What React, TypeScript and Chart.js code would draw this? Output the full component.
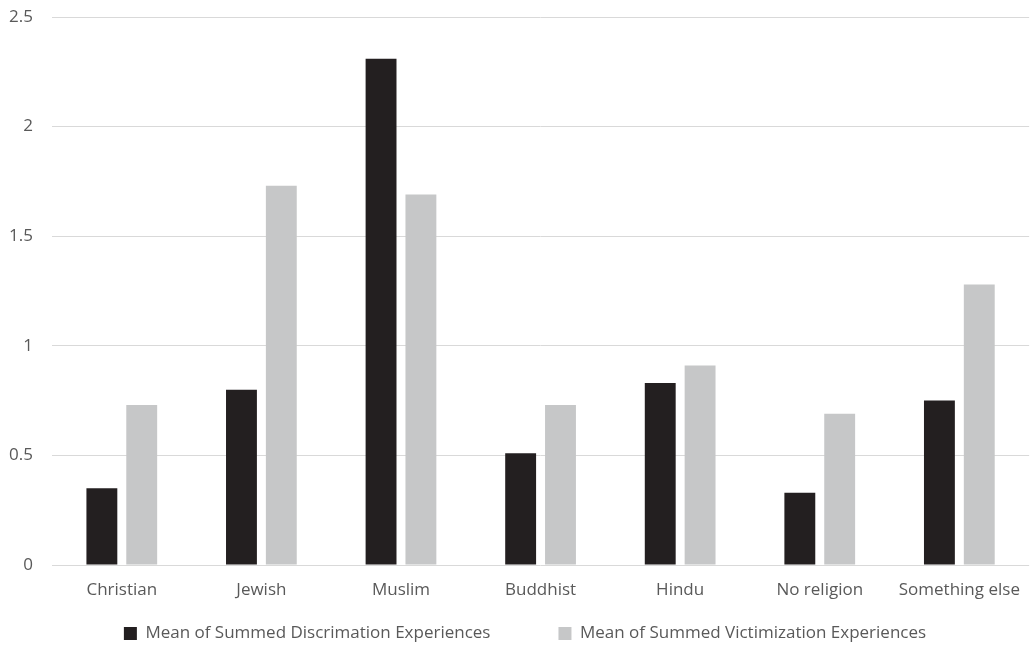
import React, { useEffect, useRef } from "react";
import { Chart, registerables } from "chart.js";

Chart.register(...registerables);

const categories = ["Christian", "Jewish", "Muslim", "Buddhist", "Hindu", "No religion", "Something else"];
const discrimination = [0.35, 0.8, 2.31, 0.51, 0.83, 0.33, 0.75];
const victimization = [0.73, 1.73, 1.69, 0.73, 0.91, 0.69, 1.28];
const seriesLabels = ["Mean of Summed Discrimation Experiences", "Mean of Summed Victimization Experiences"];
const yTicks = [0, 0.5, 1, 1.5, 2, 2.5];

const FONT = "'Open Sans', 'Noto Sans', sans-serif";
const TEXT = "#595959";
const LEGEND_GAP = 68;
const LEGEND_HEIGHT = 28;
const LEGEND_DX = 8;
const LEGEND_TOP_OFFSET = 7;

// Keeps a wide horizontal gap between legend items while keeping the legend band short.
const legendTweak = {
  id: "legendTweak",
  beforeLayout(chart: any) {
    const lg = chart.legend;
    if (!lg || lg.__patched) return;
    lg.__patched = true;
    const fit = lg.fit;
    lg.fit = function () {
      fit.call(this);
      this.height = LEGEND_HEIGHT;
    };
    const draw = lg.draw;
    lg.draw = function () {
      const t = this.top, l = this.left, r = this.right;
      this.top = t - (LEGEND_GAP - LEGEND_TOP_OFFSET);
      this.left = l + LEGEND_DX;
      this.right = r + LEGEND_DX;
      draw.call(this);
      this.top = t;
      this.left = l;
      this.right = r;
    };
  },
};

export default function App() {
  const ref = useRef<HTMLCanvasElement | null>(null);
  useEffect(() => {
    if (!ref.current) return;
    const chart = new Chart(ref.current, {
      type: "bar",
      data: {
        labels: categories,
        datasets: [
          { label: seriesLabels[0], data: discrimination, backgroundColor: "#231f20", categoryPercentage: 0.571, barPercentage: 0.775 },
          { label: seriesLabels[1], data: victimization, backgroundColor: "#c6c7c8", categoryPercentage: 0.571, barPercentage: 0.775 },
        ],
      },
      plugins: [legendTweak],
      options: {
        responsive: false,
        animation: false,
        layout: { padding: { top: 17, right: 1, left: 0, bottom: 0 } },
        plugins: {
          tooltip: { enabled: false },
          legend: {
            position: "bottom",
            labels: {
              boxWidth: 13,
              boxHeight: 13,
              padding: LEGEND_GAP,
              color: TEXT,
              font: { family: FONT, size: 17 },
            },
          },
        },
        scales: {
          x: {
            afterFit: (s: any) => { s.height = 53; },
            grid: { display: false, drawTicks: false },
            border: { display: false },
            ticks: { color: TEXT, font: { family: FONT, size: 17 }, padding: 15, maxRotation: 0 },
          },
          y: {
            min: 0,
            max: 2.5,
            afterFit: (s: any) => { s.width = 52; s.paddingTop = 0; s.paddingBottom = 0; },
            afterBuildTicks: (s: any) => { s.ticks = yTicks.map((v) => ({ value: v })); },
            grid: { color: "#d9d9d9", drawTicks: false, lineWidth: 1 },
            border: { display: false },
            ticks: {
              color: TEXT,
              font: { family: FONT, size: 17 },
              padding: 19,
              callback: (v: any) => String(Number(v)),
            },
          },
        },
      },
    });
    return () => chart.destroy();
  }, []);
  return (
    <div style={{ position: "absolute", left: 0, top: 0, width: 1035, height: 646, background: "#fff" }}>
      <canvas ref={ref} width={1035} height={646} style={{ display: "block" }} />
    </div>
  );
}
